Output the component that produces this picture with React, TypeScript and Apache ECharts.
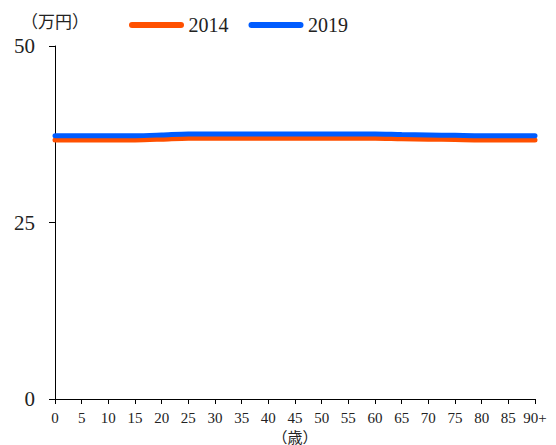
import React, { useEffect, useRef } from "react";
import * as echarts from "echarts";

const categories = ["0", "5", "10", "15", "20", "25", "30", "35", "40", "45", "50", "55", "60", "65", "70", "75", "80", "85", "90+"];
const values2014 = [36.7, 36.7, 36.7, 36.7, 36.8, 36.95, 36.95, 36.95, 36.95, 36.95, 36.95, 36.95, 36.95, 36.85, 36.8, 36.75, 36.7, 36.7, 36.7];
const values2019 = [37.3, 37.3, 37.3, 37.3, 37.4, 37.55, 37.55, 37.55, 37.55, 37.55, 37.55, 37.55, 37.55, 37.45, 37.4, 37.35, 37.3, 37.3, 37.3];
const yTicks = [0, 25, 50];

const FONT = "'Liberation Serif', 'Noto Sans CJK JP', serif";
const capsule = "path://M3,0 L52,0 A3,3 0 0 1 52,6 L3,6 A3,3 0 0 1 3,0 Z";

export default function App() {
  const ref = useRef<HTMLDivElement>(null);
  useEffect(() => {
    if (!ref.current) return;
    const chart = echarts.init(ref.current, null, { renderer: "svg" });
    chart.setOption({
      animation: false,
      textStyle: { fontFamily: FONT, color: "#222" },
      legend: {
        top: 10,
        left: 124,
        itemWidth: 56,
        itemHeight: 6,
        itemGap: 20,
        textStyle: { fontSize: 20, fontFamily: FONT, color: "#222", padding: [0, 0, 0, -1] },
        data: [
          { name: "2014", icon: capsule },
          { name: "2019", icon: capsule },
        ],
      },
      grid: { left: 55, right: 21, top: 46, bottom: 46, containLabel: false, outerBoundsMode: "none" },
      xAxis: {
        type: "category",
        data: categories,
        boundaryGap: false,
        name: "（歳）",
        nameLocation: "middle",
        nameGap: 31,
        nameTextStyle: { fontSize: 15, lineHeight: 15, fontFamily: FONT, color: "#222" },
        axisLine: { lineStyle: { color: "#000", width: 1 } },
        axisTick: { show: true, length: 5, interval: 0, lineStyle: { color: "#000" } },
        axisLabel: { fontSize: 15, color: "#222", margin: 11, interval: 0, fontFamily: FONT },
        splitLine: { show: false },
      },
      yAxis: {
        type: "value",
        min: 0,
        max: 50,
        interval: 25,
        name: "（万円）",
        nameLocation: "end",
        nameGap: 15,
        nameTextStyle: { fontSize: 17, fontFamily: FONT, color: "#222", align: "center" },
        axisLine: { show: true, lineStyle: { color: "#000", width: 1 } },
        axisTick: { show: true, length: 6, lineStyle: { color: "#000" } },
        axisLabel: {
          fontSize: 21,
          color: "#222",
          margin: 20,
          fontFamily: FONT,
          formatter: (v: number) => (yTicks.includes(v) ? String(v) : ""),
        },
        splitLine: { show: false },
      },
      series: [
        {
          name: "2014",
          type: "line",
          data: values2014,
          showSymbol: false,
          symbol: "none",
          smooth: 0.3,
          itemStyle: { color: "#FF5000" },
          lineStyle: { color: "#FF5000", width: 5, cap: "round" },
        },
        {
          name: "2019",
          type: "line",
          data: values2019,
          showSymbol: false,
          symbol: "none",
          smooth: 0.3,
          itemStyle: { color: "#005CFF" },
          lineStyle: { color: "#005CFF", width: 5, cap: "round" },
        },
      ],
    });
    return () => chart.dispose();
  }, []);
  return <div ref={ref} style={{ width: 556, height: 445, position: "absolute", left: 0, top: 0 }} />;
}
